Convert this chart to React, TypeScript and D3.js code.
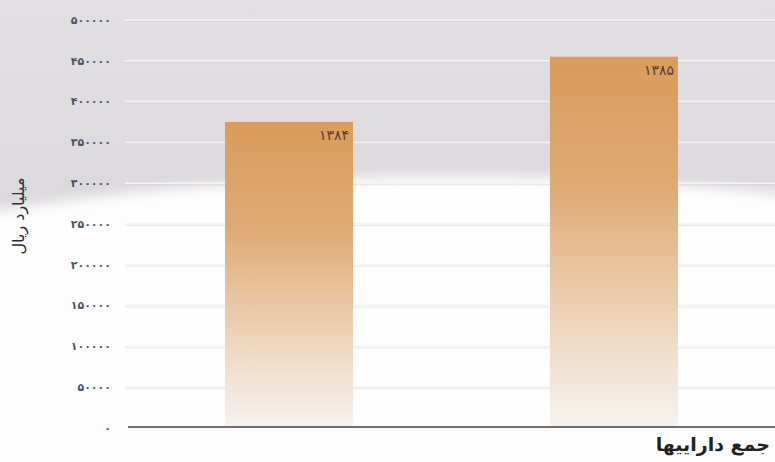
import React from "react";
import * as d3 from "d3";

const categories = ["۱۳۸۴", "۱۳۸۵"];
const values = [375000, 455000];
const yTicks = [0, 50000, 100000, 150000, 200000, 250000, 300000, 350000, 400000, 450000, 500000];
const yLabel = "میلیارد ریال";
const xLabel = "جمع داراییها";

const W = 775;
const H = 462;
const faDigits = "۰۱۲۳۴۵۶۷۸۹";
const toFa = (n: number) => String(n).replace(/[0-9]/g, (d) => faDigits[+d]);

export default function App() {
  const y = d3.scaleLinear().domain([0, 500000]).range([428, 20]);
  const x = d3.scaleBand().domain(categories).range([127.5, 775.5]).paddingInner(0.606).paddingOuter(0.3);
  const bw = x.bandwidth();
  return (
    <svg width={W} height={H} style={{ position: "absolute", left: 0, top: 0 }}>
      <defs>
        <linearGradient id="bg" x1="0" y1="0" x2="0" y2="1">
          <stop offset="0" stopColor="#e3e0e3" />
          <stop offset="0.45" stopColor="#dcd9dc" />
          <stop offset="1" stopColor="#d9d6d9" />
        </linearGradient>
        <linearGradient id="bar" x1="0" y1="0" x2="0" y2="1">
          <stop offset="0" stopColor="#d99c5a" />
          <stop offset="0.35" stopColor="#dfaa74" />
          <stop offset="0.7" stopColor="#edd3b8" />
          <stop offset="1" stopColor="#f7f3ef" />
        </linearGradient>
        <filter id="blur" x="-10%" y="-10%" width="120%" height="120%">
          <feGaussianBlur stdDeviation="6" />
        </filter>
      </defs>
      <rect x={0} y={0} width={W} height={H} fill="url(#bg)" />
      <ellipse cx={450} cy={568} rx={1100} ry={392} fill="#fdfdfd" filter="url(#blur)" />
      {yTicks.map((t) => (
        <g key={t}>
          {t > 0 && (
            <>
              <line x1={125} x2={W} y1={y(t) + 1.5} y2={y(t) + 1.5} stroke="#d0cdd0" strokeOpacity={0.45} strokeWidth={1} />
              <line x1={125} x2={W} y1={y(t)} y2={y(t)} stroke="#f3f3f3" strokeWidth={1.5} />
            </>
          )}
          <text
            x={111}
            y={y(t)}
            dy="0.35em"
            textAnchor="end"
            fontFamily="DejaVu Sans, Noto Sans, sans-serif"
            fontSize={11}
            fontWeight="bold"
            letterSpacing={3.2}
            fill="#4a5468"
            style={{ direction: "ltr" } as any}
          >
            {toFa(t)}
          </text>
        </g>
      ))}
      {categories.map((c, i) => (
        <g key={c}>
          <rect x={x(c)!} y={y(values[i])} width={bw} height={y(0) - y(values[i]) - 2} fill="url(#bar)" />
          <text
            x={x(c)! + bw - 4}
            y={y(values[i]) + 18}
            textAnchor="end"
            fontFamily="DejaVu Sans, Noto Sans, sans-serif"
            fontSize={14}
            letterSpacing={1.5}
            fill="#5e3a2c"
            style={{ direction: "ltr" } as any}
          >
            {c}
          </text>
        </g>
      ))}
      <line x1={128} x2={W} y1={427} y2={427} stroke="#6e6e72" strokeWidth={2.2} />
      <text
        transform={`translate(24,216) rotate(-90)`}
        textAnchor="middle"
        fontFamily="DejaVu Sans, Noto Sans, sans-serif"
        fontSize={16}
        fill="#2e2e38"
        style={{ direction: "rtl" } as any}
      >
        {yLabel}
      </text>
      <text
        x={770}
        y={451}
        textAnchor="start"
        fontFamily="DejaVu Sans, Noto Sans, sans-serif"
        fontSize={19}
        fontWeight="bold"
        fill="#222"
        style={{ direction: "rtl" } as any}
      >
        {xLabel}
      </text>
    </svg>
  );
}
